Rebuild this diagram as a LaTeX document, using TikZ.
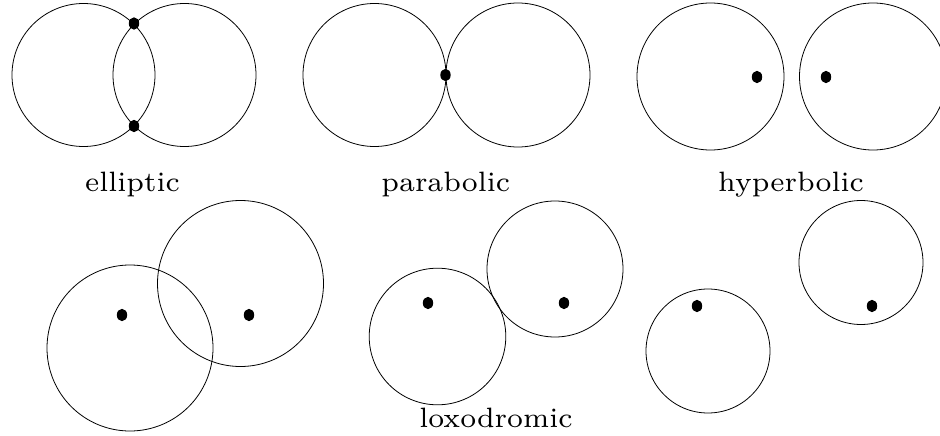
\documentclass[tikz,border=0pt]{standalone}
\begin{document}
\begin{tikzpicture}[x=1pt,y=-1pt,
  circ/.style={draw=black,line width=0.8pt},
  fixpt/.style={fill=black},
  lbl/.style={anchor=base,inner sep=0pt,outer sep=0pt}]
\useasboundingbox (0,0) rectangle (940,436);
\clip (0,0) rectangle (940,436);
% elliptic
\draw[circ] (83.5,75) circle (71.5);
\draw[circ] (184.5,75) circle (71.5);
\fill[fixpt] (134,23.5) ellipse (5.2 and 6.2);
\fill[fixpt] (134,126) ellipse (5.2 and 6.2);
% parabolic
\draw[circ] (374.5,75) circle (71.5);
\draw[circ] (518,75) circle (72);
\fill[fixpt] (445.5,75) ellipse (5.2 and 6.2);
% hyperbolic
\draw[circ] (710.5,76.5) circle (73.5);
\draw[circ] (873,76.5) circle (73.5);
\fill[fixpt] (757,77) ellipse (5.2 and 6.2);
\fill[fixpt] (826,77) ellipse (5.2 and 6.2);
% labels
\node[lbl] (ell) at (132.5,191.7) {\scalebox{4}{\fontsize{7}{8}\selectfont elliptic}};
\node[lbl] (par) at (445.8,191.7) {\scalebox{4}{\fontsize{7}{8}\selectfont parabolic}};
\node[lbl] (hyp) at (791,191.7) {\scalebox{4}{\fontsize{7}{8}\selectfont hyperbolic}};
\node[lbl] (lox) at (496,427.3) {\scalebox{4}{\fontsize{7}{8}\selectfont loxodromic}};
% loxodromic 1
\draw[circ] (130,348) circle (83);
\draw[circ] (240.5,283.5) circle (83);
\fill[fixpt] (122,315) ellipse (5.2 and 6.2);
\fill[fixpt] (249,315) ellipse (5.2 and 6.2);
% loxodromic 2
\draw[circ] (437.5,336.5) circle (68.3);
\draw[circ] (555,269) circle (68);
\fill[fixpt] (428,303) ellipse (5.2 and 6.2);
\fill[fixpt] (564,303) ellipse (5.2 and 6.2);
% loxodromic 3
\draw[circ] (708,351) circle (62);
\draw[circ] (861,262.5) circle (62);
\fill[fixpt] (697,306) ellipse (5.2 and 6.2);
\fill[fixpt] (872,306) ellipse (5.2 and 6.2);
\end{tikzpicture}
\end{document}
